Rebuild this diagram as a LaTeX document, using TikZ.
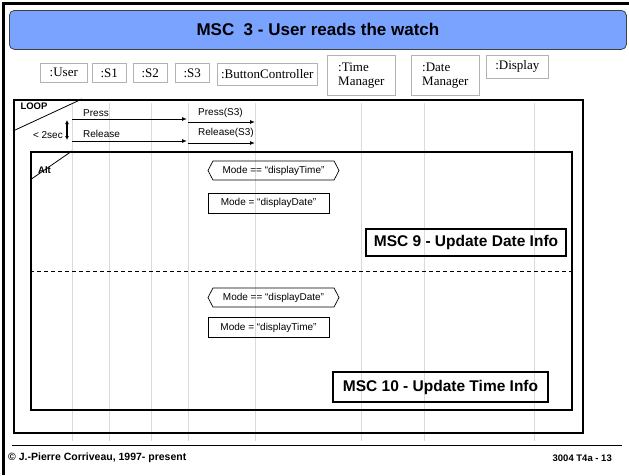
\documentclass[tikz,border=0pt]{standalone}
\usepackage{fontspec}
\setmainfont{Liberation Sans}
\newfontfamily\timesfont{Liberation Serif}
\usetikzlibrary{shapes.symbols, arrows.meta, positioning}
\definecolor{titleblue}{RGB}{122,162,255}
\definecolor{lifegray}{RGB}{218,218,218}

\begin{document}
\begin{tikzpicture}[
        x = 1pt, y = -1pt,
        instance/.style = {draw = gray!60, line width = 0.6pt, anchor = north west, align = left,
            inner sep = 2pt, font = \timesfont\fontsize{13}{14}\selectfont},
        lifeline/.style = {draw = lifegray, line width = 0.8pt},
        msg/.style = {draw, line width = 1pt, -{Latex[length = 5pt, width = 4pt]}},
        msgtext/.style = {inner sep = 1pt, font = \fontsize{10}{12}\selectfont},
        msgframe/.style = {draw, line width = 1.8pt, anchor = north west, inner sep = 0pt},
        cond/.style = {draw, signal, signal to = east and west, signal pointer angle = 125,
            line width = 0.7pt, inner sep = 1pt, font = \fontsize{10}{12}\selectfont},
        action/.style = {draw, line width = 0.7pt, inner sep = 1pt, font = \fontsize{10}{12}\selectfont},
        ref/.style = {draw, line width = 1.8pt, inner sep = 1pt, font = \bfseries\fontsize{15.5}{18}\selectfont}
    ]
    \useasboundingbox (0,0) rectangle (629,475);

    % Page frame and title
    \draw [line width = 2.5pt] (3.5,475) -- (3.5,3.5) -- (629,3.5);
    \node (title) [draw = black!75, fill = titleblue, rounded corners = 5pt, anchor = north west,
        minimum width = 617pt, minimum height = 39pt, line width = 0.8pt,
        font = \bfseries\fontsize{17}{20}\selectfont] at (9,10) {MSC\ \ 3 - User reads the watch};

    % Instances
    \node (user) [instance, minimum width = 47pt, minimum height = 19pt] at (40,63) {:User};
    \node (s1) [instance, minimum width = 34pt, minimum height = 19pt] at (92,63) {:S1};
    \node (s2) [instance, minimum width = 34pt, minimum height = 19pt] at (133,63) {:S2};
    \node (s3) [instance, minimum width = 34pt, minimum height = 19pt] at (175,63) {:S3};
    \node (bc) [instance, minimum width = 100pt, minimum height = 22pt] at (217,63) {:ButtonController};
    \node (tm) [instance, minimum width = 68pt, minimum height = 40pt] at (327,55) {:Time\\Manager};
    \node (dm) [instance, minimum width = 68pt, minimum height = 40pt] at (411,55) {:Date\\Manager};
    \node (disp) [instance, minimum width = 62pt, minimum height = 23pt] at (486,55) {:Display};

    % Lifelines
    \foreach \name/\x in {user/72, s1/109, s2/151, s3/188, bc/255, tm/361, dm/424, disp/534} {
        \coordinate (\name top) at (\x,103);
        \coordinate (\name bot) at (\x,441);
        \draw [lifeline] (\name top) -- (\name bot);
    }

    % Frames
    \node (loop) [msgframe, minimum width = 569pt, minimum height = 333pt] at (13,99) {};
    \draw [line width = 0.8pt] ([xshift = 69pt]loop.north west) -- ([yshift = -32pt]loop.north west);
    \node (looptag) [font = \bfseries\fontsize{9.5}{11}\selectfont, inner sep = 0pt] at (34,106) {LOOP};

    \node (alt) [msgframe, minimum width = 541pt, minimum height = 258pt] at (30,151) {};
    \draw [line width = 0.8pt] ([xshift = 42pt]alt.north west) -- ([yshift = -29pt]alt.north west);
    \node (alttag) [font = \bfseries\fontsize{9.5}{11}\selectfont, inner sep = 0pt] at (44.5,170) {Alt};
    \coordinate (split w) at (30,271);
    \coordinate (split e) at (571,271);
    \draw [dashed, line width = 0.8pt, dash pattern = on 4pt off 3pt] (split w) -- (split e);

    % Messages
    \coordinate (press start) at (72,119);
    \coordinate (press end) at (187,119);
    \coordinate (press3 start) at (188,122);
    \coordinate (press3 end) at (255,122);
    \coordinate (release start) at (72,141);
    \coordinate (release end) at (187,141);
    \coordinate (release3 start) at (188,143);
    \coordinate (release3 end) at (255,143);
    \draw [msg] (press start) -- (press end);
    \draw [msg] (press3 start) -- (press3 end);
    \draw [msg] (release start) -- (release end);
    \draw [msg] (release3 start) -- (release3 end);
    \node (press) [msgtext, above right = 1pt and 10pt of press start] {Press};
    \node (press3) [msgtext, above right = 3.5pt and 9pt of press3 start] {Press(S3)};
    \node (release) [msgtext, above right = 2pt and 10pt of release start] {Release};
    \node (release3) [msgtext, above right = 4pt and 9pt of release3 start] {Release(S3)};

    % Time interval
    \coordinate (gap top) at (67,120);
    \coordinate (gap bot) at (67,140);
    \draw [line width = 1.2pt, {Latex[length = 4pt, width = 4pt]}-{Latex[length = 4pt, width = 4pt]}] (gap top) -- (gap bot);
    \node (gap) [msgtext, left = 3pt of gap bot, yshift = 5pt] {< 2sec};

    % Conditions and actions
    \node (cond1) [cond, minimum width = 131pt, minimum height = 19pt] at (273.5,170.5) {Mode == “displayTime”};
    \node (act1) [action, minimum width = 121pt, minimum height = 20pt] at (268.5,203) {Mode = “displayDate”};
    \node (msc9) [ref, minimum width = 200pt, minimum height = 27pt] at (466,242.5) {MSC 9 - Update Date Info};

    \node (cond2) [cond, minimum width = 131pt, minimum height = 19pt] at (273.5,297.5) {Mode == “displayDate”};
    \node (act2) [action, minimum width = 121pt, minimum height = 20pt] at (268.5,327.5) {Mode = “displayTime”};
    \node (msc10) [ref, minimum width = 215pt, minimum height = 30pt] at (440.5,387) {MSC 10 - Update Time Info};

    % Footer
    \coordinate (foot w) at (12,445);
    \coordinate (foot e) at (622,445);
    \draw [line width = 0.8pt] (foot w) -- (foot e);
    \node (copy) [anchor = west, inner sep = 0pt, font = \bfseries\fontsize{10.5}{12}\selectfont] at (8,458) {© J.-Pierre Corriveau, 1997- present};
    \node (slide) [anchor = east, inner sep = 0pt, font = \bfseries\fontsize{9.5}{12}\selectfont] at (612,458) {3004 T4a - 13};

\end{tikzpicture}
\end{document}
